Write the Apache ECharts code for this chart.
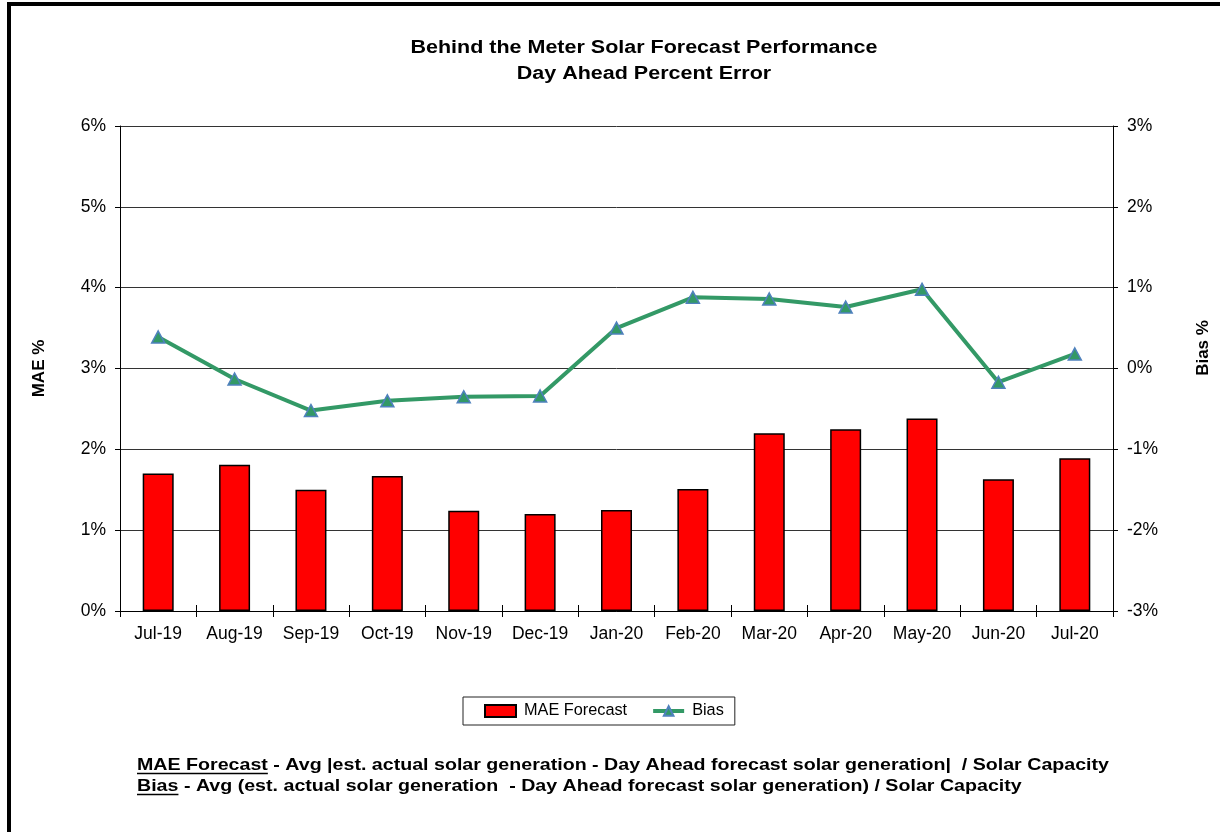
<!DOCTYPE html>
<html>
<head>
<meta charset="utf-8">
<script src="https://cdn.jsdelivr.net/npm/echarts@6/dist/echarts.min.js"></script>
<style>
html,body{margin:0;padding:0;background:#fff;}
#chart{width:1220px;height:832px;}
</style>
</head>
<body>
<div id="chart"></div>
<script>
const categories = ['Jul-19','Aug-19','Sep-19','Oct-19','Nov-19','Dec-19','Jan-20','Feb-20','Mar-20','Apr-20','May-20','Jun-20','Jul-20'];
const maeForecast = [1.70, 1.81, 1.50, 1.67, 1.24, 1.20, 1.25, 1.51, 2.20, 2.25, 2.38, 1.63, 1.89];
const bias = [0.39, -0.13, -0.52, -0.40, -0.35, -0.34, 0.50, 0.88, 0.86, 0.76, 0.98, -0.17, 0.18];
const titleLines = ['Behind the Meter Solar Forecast Performance', 'Day Ahead Percent Error'];
const footLabels = ['MAE Forecast', 'Bias'];
const footTexts = [
  ' - Avg |est. actual solar generation - Day Ahead forecast solar generation|  / Solar Capacity',
  ' - Avg (est. actual solar generation  - Day Ahead forecast solar generation) / Solar Capacity'
];

const FONT = 'Arial, "Liberation Sans", sans-serif';
const mctx = document.createElement('canvas').getContext('2d');
function measure(text, size, weight) {
  mctx.font = (weight || 'normal') + ' ' + size + 'px ' + FONT;
  return mctx.measureText(text).width;
}
const titleSize = 18;
const titleScale = 467 / measure(titleLines[0], titleSize, 'bold');
const footSize = 17;
const footScale = (1109 - 137) / measure(footLabels[0] + footTexts[0], footSize, 'bold');

const graphics = [
  { type: 'rect', shape: { x: 9, y: 4, width: 1400, height: 1000 }, style: { fill: 'none', stroke: '#000', lineWidth: 4 }, silent: true }
];
titleLines.forEach((t, i) => {
  graphics.push({ type: 'text', x: 644, y: 48 + i * 26, scaleX: titleScale,
    style: { text: t, fontSize: titleSize, fontWeight: 'bold', fontFamily: FONT, fill: '#000', align: 'center', verticalAlign: 'middle' } });
});
footLabels.forEach((lab, i) => {
  const y = 765 + i * 21;
  const x0 = 137;
  const wLab = measure(lab, footSize, 'bold') * footScale;
  graphics.push({ type: 'text', x: x0, y: y, scaleX: footScale,
    style: { text: lab, fontSize: footSize, fontWeight: 'bold', fontFamily: FONT, fill: '#000', align: 'left', verticalAlign: 'middle' } });
  graphics.push({ type: 'text', x: x0 + wLab, y: y, scaleX: footScale,
    style: { text: footTexts[i], fontSize: footSize, fontWeight: 'bold', fontFamily: FONT, fill: '#000', align: 'left', verticalAlign: 'middle' } });
  graphics.push({ type: 'line', shape: { x1: x0, y1: y + 8.5, x2: x0 + wLab, y2: y + 8.5 }, style: { stroke: '#000', lineWidth: 1.5 } });
});
graphics.push({ type: 'text', x: 1203, y: 348, rotation: Math.PI / 2,
  style: { text: 'Bias %', fontSize: 17, fontWeight: 'bold', fontFamily: FONT, fill: '#000', align: 'center', verticalAlign: 'middle' } });

const chart = echarts.init(document.getElementById('chart'), null, { renderer: 'canvas' });
const axisFont = { fontSize: 17.5, fontFamily: FONT, color: '#000' };
chart.setOption({
  backgroundColor: '#fff',
  animation: false,
  textStyle: { fontFamily: FONT },
  grid: { left: 120, right: 107, top: 126, bottom: 221, containLabel: false },
  legend: {
    left: 463, top: 697,
    orient: 'horizontal',
    borderColor: '#222', borderWidth: 1,
    padding: [6, 11, 6, 21],
    itemWidth: 31, itemHeight: 12, itemGap: 24,
    textStyle: { fontSize: 16.3, fontFamily: FONT, color: '#000', padding: [0, 0, 0, 3] },
    data: [
      { name: 'MAE Forecast', icon: 'rect' },
      { name: 'Bias', lineStyle: { width: 4, color: '#339966' } }
    ]
  },
  xAxis: [
    {
      type: 'category', data: categories, boundaryGap: true,
      axisLine: { show: true, onZero: false, lineStyle: { color: '#000', width: 1 } },
      axisTick: { show: true, length: 6, lineStyle: { color: '#000' } },
      axisLabel: Object.assign({ margin: 14, interval: 0 }, axisFont)
    },
    {
      type: 'category', data: categories, boundaryGap: true, position: 'bottom',
      axisLine: { show: false, onZero: false },
      axisTick: { show: true, inside: true, length: 6, lineStyle: { color: '#000' } },
      axisLabel: { show: false }
    }
  ],
  yAxis: [
    {
      type: 'value', min: 0, max: 6, interval: 1, position: 'left',
      name: 'MAE %', nameLocation: 'middle', nameGap: 72, nameRotate: 90,
      nameTextStyle: { fontSize: 17, fontWeight: 'bold', fontFamily: FONT, color: '#000' },
      axisLine: { show: true, lineStyle: { color: '#000', width: 1 } },
      axisTick: { show: true, length: 5, lineStyle: { color: '#000' } },
      axisLabel: Object.assign({ formatter: '{value}%', margin: 14 }, axisFont),
      splitLine: { show: true, lineStyle: { color: '#333', width: 1 } }
    },
    {
      type: 'value', min: -3, max: 3, interval: 1, position: 'right',
      axisLine: { show: true, lineStyle: { color: '#000', width: 1 } },
      axisTick: { show: true, length: 5, lineStyle: { color: '#000' } },
      axisLabel: Object.assign({ formatter: '{value}%', margin: 14 }, axisFont),
      splitLine: { show: false }
    }
  ],
  series: [
    {
      name: 'MAE Forecast', type: 'bar', data: maeForecast, xAxisIndex: 0, yAxisIndex: 0,
      barWidth: 31,
      itemStyle: { color: '#FF0000', borderColor: '#000', borderWidth: 1.5 },
      z: 2
    },
    {
      name: 'Bias', type: 'line', data: bias, xAxisIndex: 0, yAxisIndex: 1,
      symbol: 'triangle', symbolSize: [13, 12],
      lineStyle: { color: '#339966', width: 4 },
      itemStyle: { color: '#339966', borderColor: '#4F81BD', borderWidth: 1.5 },
      z: 3
    }
  ],
  graphic: graphics
});
</script>
</body>
</html>
